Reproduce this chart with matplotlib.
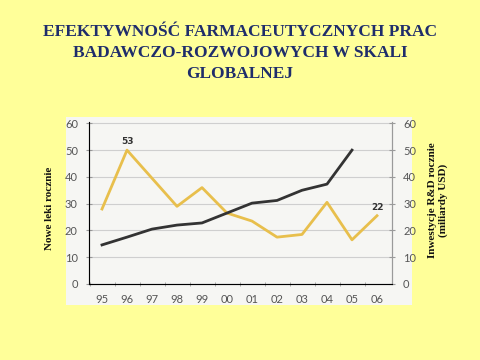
import matplotlib
matplotlib.use("Agg")
import matplotlib.pyplot as plt

# data
years = ["95", "96", "97", "98", "99", "00", "01", "02", "03", "04", "05", "06"]
new_drugs = [28, 50, 39.5, 29, 36, 26.5, 23.5, 17.5, 18.5, 30.5, 16.5, 25.5]
rd_spend = [14.6, 17.5, 20.5, 22, 22.8, 26.5, 30.2, 31.2, 35, 37.3, 50, None]
point_labels = {1: "53", 11: "22"}

W, H = 480, 360
fig = plt.figure(figsize=(4.8, 3.6), dpi=100)
fig.patch.set_facecolor("#ffff99")

# scanned chart background (white box)
bg = fig.add_axes([66 / W, 1 - 305 / H, (412 - 66) / W, (305 - 117) / H], zorder=0)
bg.set_facecolor("#f6f6f3")
bg.set_xticks([])
bg.set_yticks([])
for s in bg.spines.values():
    s.set_visible(False)

title = "EFEKTYWNOŚĆ FARMACEUTYCZNYCH PRAC\nBADAWCZO-ROZWOJOWYCH W SKALI\nGLOBALNEJ"
fig.text(0.5, 1 - 24 / H, title, ha="center", va="top", family="Liberation Serif",
         fontweight="bold", fontsize=12.5, color="#1f2d6b", linespacing=1.42)

ax = fig.add_axes([89 / W, 1 - 284 / H, (392 - 89) / W, (284 - 122) / H], zorder=2)
ax.set_facecolor("none")
x = list(range(len(years)))

ax.plot(x, new_drugs, color="#e8bf4c", lw=2, zorder=3)
xs = [i for i, v in zip(x, rd_spend) if v is not None]
ys = [v for v in rd_spend if v is not None]
ax.plot(xs, ys, color="#333333", lw=2, zorder=3)

for i, txt in point_labels.items():
    ax.annotate(txt, (x[i], new_drugs[i]), xytext=(0, 3), textcoords="offset points",
                ha="center", va="bottom", fontsize=6.5, fontweight="bold", color="#333333")

ax.set_xlim(-0.52, 11.6)
ax.set_ylim(0, 60.5)
ax.set_yticks(range(0, 61, 10))
ax.set_xticks(x)
ax.set_xticklabels(years)
ax.set_xticks([i + 0.5 for i in range(-1, 11)], minor=True)
ax.grid(axis="y", color="#cfcfcf", lw=0.8, zorder=1)

for s in ("left", "right", "bottom"):
    ax.spines[s].set_color("#9a9a9a")
    ax.spines[s].set_linewidth(0.8)
ax.spines["top"].set_visible(False)

ax.tick_params(axis="x", which="major", length=0, pad=7, labelsize=8, labelcolor="#555555")
ax.tick_params(axis="x", which="minor", length=3, direction="inout", color="#9a9a9a")
ax.tick_params(axis="y", length=4, direction="inout", color="#9a9a9a",
               labelsize=8, labelcolor="#555555", pad=6)
for lab in ax.get_xticklabels() + ax.get_yticklabels():
    lab.set_family("Lato")

ax2 = ax.twinx()
ax2.set_ylim(ax.get_ylim())
ax2.set_yticks(range(0, 61, 10))
ax2.spines["top"].set_visible(False)
ax2.spines["right"].set_color("#9a9a9a")
ax2.spines["right"].set_linewidth(0.8)
ax2.tick_params(axis="y", length=4, direction="inout", color="#9a9a9a",
                labelsize=8, labelcolor="#555555", pad=6)
for lab in ax2.get_yticklabels():
    lab.set_family("Lato")

fig.text(50 / W, 1 - 208 / H, "Nowe leki rocznie", rotation=90, ha="center", va="center",
         family="Liberation Serif", fontweight="bold", fontsize=8, color="#111111")
fig.text(438 / W, 1 - 200 / H, "Inwestycje R&D rocznie\n(miliardy USD)", rotation=90,
         ha="center", va="center", family="Liberation Serif", fontweight="bold",
         fontsize=8, color="#111111", linespacing=1.3)

fig.savefig("out.png", dpi=100, facecolor=fig.get_facecolor())
